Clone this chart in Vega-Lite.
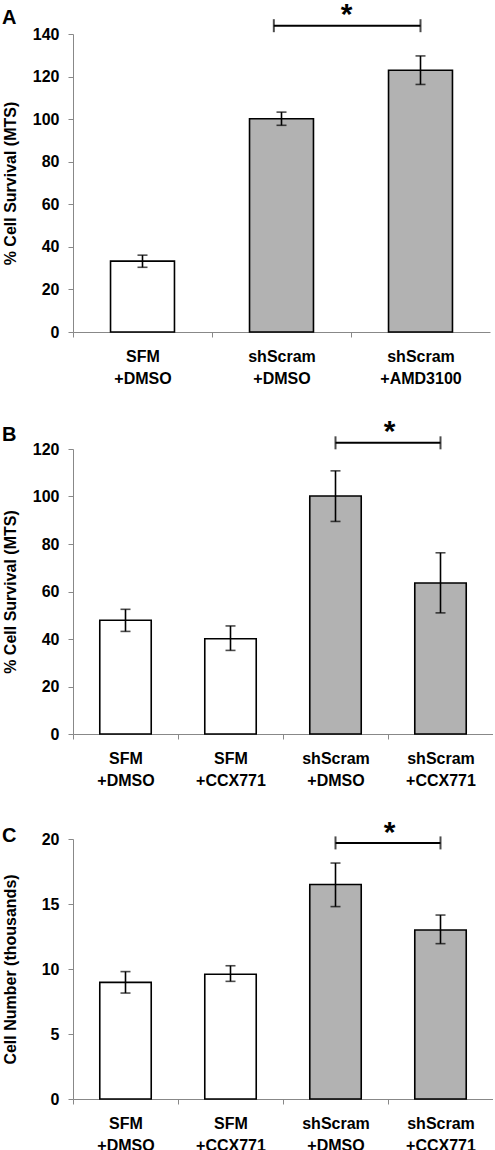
{
  "$schema": "https://vega.github.io/schema/vega-lite/v6.json",
  "padding": {"left": 1, "top": 0, "right": 0, "bottom": 0},
  "config": {
    "view": {"stroke": null},
    "font": "Liberation Sans",
    "axis": {"labelFont": "Liberation Sans", "labelFontWeight": "bold", "labelFontSize": 16, "labelColor": "#000", "titleFont": "Liberation Sans", "titleFontWeight": "bold", "titleFontSize": 16, "titleColor": "#000", "domainColor": "#888", "tickColor": "#888", "grid": false, "domainWidth": 1, "tickWidth": 1, "tickSize": 5},
    "title": {"fontSize": 20, "fontWeight": "bold", "anchor": "start", "frame": "bounds", "color": "#000", "font": "Liberation Sans", "dy": 32}
  },
  "datasets": {
    "a": [
      {"cond": "SFM|+DMSO", "group": "SFM", "mean": 33.3, "lo": 30.4, "hi": 36.1},
      {"cond": "shScram|+DMSO", "group": "shScram", "mean": 100.2, "lo": 97.1, "hi": 103.3},
      {"cond": "shScram|+AMD3100", "group": "shScram", "mean": 123.0, "lo": 116.3, "hi": 129.7}
    ],
    "abr": [{"x1": "shScram|+DMSO", "x2": "shScram|+AMD3100", "y": 143.9, "star": 148.9, "label": "*"}],
    "b": [
      {"cond": "SFM|+DMSO", "group": "SFM", "mean": 47.9, "lo": 43.2, "hi": 52.5},
      {"cond": "SFM|+CCX771", "group": "SFM", "mean": 40.1, "lo": 35.2, "hi": 45.5},
      {"cond": "shScram|+DMSO", "group": "shScram", "mean": 100.2, "lo": 89.5, "hi": 110.8},
      {"cond": "shScram|+CCX771", "group": "shScram", "mean": 63.6, "lo": 51.0, "hi": 76.3}
    ],
    "bbr": [{"x1": "shScram|+DMSO", "x2": "shScram|+CCX771", "y": 122.6, "star": 127.2, "label": "*"}],
    "c": [
      {"cond": "SFM|+DMSO", "group": "SFM", "mean": 8.97, "lo": 8.15, "hi": 9.8},
      {"cond": "SFM|+CCX771", "group": "SFM", "mean": 9.6, "lo": 9.05, "hi": 10.25},
      {"cond": "shScram|+DMSO", "group": "shScram", "mean": 16.5, "lo": 14.8, "hi": 18.15},
      {"cond": "shScram|+CCX771", "group": "shScram", "mean": 13.0, "lo": 11.95, "hi": 14.15}
    ],
    "cbr": [{"x1": "shScram|+DMSO", "x2": "shScram|+CCX771", "y": 19.7, "star": 20.45, "label": "*"}]
  },
  "bounds": "flush",
  "spacing": 117,
  "vconcat": [
    {
      "width": 417,
      "height": 298,
      "title": {"text": "A"},
      "layer": [
        {
          "data": {"name": "a"},
          "mark": {"type": "bar", "stroke": "#000", "strokeWidth": 1.6},
          "encoding": {
            "x": {"field": "cond", "type": "nominal", "title": null, "scale": {"domain": ["SFM|+DMSO", "shScram|+DMSO", "shScram|+AMD3100"], "paddingInner": 0.54, "paddingOuter": 0.27},
              "axis": {"labelAngle": 0, "labelExpr": "split(datum.label, '|')", "tickOffset": -69.5, "labelOffset": 69.5, "labelPadding": 11, "labelLineHeight": 22}},
            "y": {"field": "mean", "type": "quantitative", "title": "% Cell Survival (MTS)", "scale": {"domain": [0, 140], "nice": false},
              "axis": {"values": [0, 20, 40, 60, 80, 100, 120, 140], "labelPadding": 9, "titleX": -55}},
            "fill": {"field": "group", "type": "nominal", "scale": {"domain": ["SFM", "shScram"], "range": ["#ffffff", "#b2b2b2"]}, "legend": null}
          }
        },
        {
          "data": {"name": "a"},
          "mark": {"type": "rule", "strokeWidth": 1.6, "color": "#000"},
          "encoding": {"x": {"field": "cond", "type": "nominal", "title": null}, "y": {"field": "lo", "type": "quantitative", "title": "% Cell Survival (MTS)"}, "y2": {"field": "hi"}}
        },
        {
          "data": {"name": "a"},
          "mark": {"type": "tick", "size": 10, "thickness": 1.6, "color": "#000"},
          "encoding": {"x": {"field": "cond", "type": "nominal", "title": null}, "y": {"field": "lo", "type": "quantitative", "title": "% Cell Survival (MTS)"}}
        },
        {
          "data": {"name": "a"},
          "mark": {"type": "tick", "size": 10, "thickness": 1.6, "color": "#000"},
          "encoding": {"x": {"field": "cond", "type": "nominal", "title": null}, "y": {"field": "hi", "type": "quantitative", "title": "% Cell Survival (MTS)"}}
        },
        {
          "data": {"name": "abr"},
          "mark": {"type": "rule", "strokeWidth": 2, "color": "#000"},
          "encoding": {"x": {"field": "x1", "type": "nominal", "bandPosition": 0.38, "title": null}, "x2": {"field": "x2", "bandPosition": 0.5}, "y": {"field": "y", "type": "quantitative", "title": "% Cell Survival (MTS)"}}
        },
        {
          "data": {"name": "abr"},
          "mark": {"type": "tick", "orient": "vertical", "size": 13, "thickness": 2, "color": "#000"},
          "encoding": {"x": {"field": "x1", "type": "nominal", "bandPosition": 0.38, "title": null}, "y": {"field": "y", "type": "quantitative", "title": "% Cell Survival (MTS)"}}
        },
        {
          "data": {"name": "abr"},
          "mark": {"type": "tick", "orient": "vertical", "size": 13, "thickness": 2, "color": "#000"},
          "encoding": {"x": {"field": "x2", "type": "nominal", "title": null}, "y": {"field": "y", "type": "quantitative", "title": "% Cell Survival (MTS)"}}
        },
        {
          "data": {"name": "abr"},
          "mark": {"type": "text", "fontSize": 30, "fontWeight": "bold", "baseline": "middle", "color": "#000"},
          "encoding": {"x": {"field": "x1", "type": "nominal", "bandPosition": 1.517, "title": null}, "y": {"field": "star", "type": "quantitative", "title": "% Cell Survival (MTS)"}, "text": {"field": "label"}}
        }
      ]
    },
    {
      "bounds": "flush",
      "spacing": 105,
      "vconcat": [
        {
          "width": 420,
          "height": 285,
          "title": {"text": "B"},
          "layer": [
            {
              "data": {"name": "b"},
              "mark": {"type": "bar", "stroke": "#000", "strokeWidth": 1.6},
              "encoding": {
                "x": {"field": "cond", "type": "nominal", "title": null, "scale": {"domain": ["SFM|+DMSO", "SFM|+CCX771", "shScram|+DMSO", "shScram|+CCX771"], "paddingInner": 0.51, "paddingOuter": 0.255},
                  "axis": {"labelAngle": 0, "labelExpr": "split(datum.label, '|')", "tickOffset": -52.5, "labelOffset": 52.5, "labelPadding": 11, "labelLineHeight": 22}},
                "y": {"field": "mean", "type": "quantitative", "title": "% Cell Survival (MTS)", "scale": {"domain": [0, 120], "nice": false},
                  "axis": {"values": [0, 20, 40, 60, 80, 100, 120], "labelPadding": 9, "titleX": -55}},
                "fill": {"field": "group", "type": "nominal", "scale": {"domain": ["SFM", "shScram"], "range": ["#ffffff", "#b2b2b2"]}, "legend": null}
              }
            },
            {
              "data": {"name": "b"},
              "mark": {"type": "rule", "strokeWidth": 1.6, "color": "#000"},
              "encoding": {"x": {"field": "cond", "type": "nominal", "title": null}, "y": {"field": "lo", "type": "quantitative", "title": "% Cell Survival (MTS)"}, "y2": {"field": "hi"}}
            },
            {
              "data": {"name": "b"},
              "mark": {"type": "tick", "size": 10, "thickness": 1.6, "color": "#000"},
              "encoding": {"x": {"field": "cond", "type": "nominal", "title": null}, "y": {"field": "lo", "type": "quantitative", "title": "% Cell Survival (MTS)"}}
            },
            {
              "data": {"name": "b"},
              "mark": {"type": "tick", "size": 10, "thickness": 1.6, "color": "#000"},
              "encoding": {"x": {"field": "cond", "type": "nominal", "title": null}, "y": {"field": "hi", "type": "quantitative", "title": "% Cell Survival (MTS)"}}
            },
            {
              "data": {"name": "bbr"},
              "mark": {"type": "rule", "strokeWidth": 2, "color": "#000"},
              "encoding": {"x": {"field": "x1", "type": "nominal", "title": null}, "x2": {"field": "x2"}, "y": {"field": "y", "type": "quantitative", "title": "% Cell Survival (MTS)"}}
            },
            {
              "data": {"name": "bbr"},
              "mark": {"type": "tick", "orient": "vertical", "size": 13, "thickness": 2, "color": "#000"},
              "encoding": {"x": {"field": "x1", "type": "nominal", "title": null}, "y": {"field": "y", "type": "quantitative", "title": "% Cell Survival (MTS)"}}
            },
            {
              "data": {"name": "bbr"},
              "mark": {"type": "tick", "orient": "vertical", "size": 13, "thickness": 2, "color": "#000"},
              "encoding": {"x": {"field": "x2", "type": "nominal", "title": null}, "y": {"field": "y", "type": "quantitative", "title": "% Cell Survival (MTS)"}}
            },
            {
              "data": {"name": "bbr"},
              "mark": {"type": "text", "fontSize": 30, "fontWeight": "bold", "baseline": "middle", "color": "#000"},
              "encoding": {"x": {"field": "x1", "type": "nominal", "bandPosition": 1.55, "title": null}, "y": {"field": "star", "type": "quantitative", "title": "% Cell Survival (MTS)"}, "text": {"field": "label"}}
            }
          ]
        },
        {
          "width": 420,
          "height": 260,
          "title": {"text": "C"},
          "layer": [
            {
              "data": {"name": "c"},
              "mark": {"type": "bar", "stroke": "#000", "strokeWidth": 1.6},
              "encoding": {
                "x": {"field": "cond", "type": "nominal", "title": null, "scale": {"domain": ["SFM|+DMSO", "SFM|+CCX771", "shScram|+DMSO", "shScram|+CCX771"], "paddingInner": 0.51, "paddingOuter": 0.255},
                  "axis": {"labelAngle": 0, "labelExpr": "split(datum.label, '|')", "tickOffset": -52.5, "labelOffset": 52.5, "labelPadding": 11, "labelLineHeight": 22}},
                "y": {"field": "mean", "type": "quantitative", "title": "Cell Number (thousands)", "scale": {"domain": [0, 20], "nice": false},
                  "axis": {"values": [0, 5, 10, 15, 20], "labelPadding": 9, "titleX": -55}},
                "fill": {"field": "group", "type": "nominal", "scale": {"domain": ["SFM", "shScram"], "range": ["#ffffff", "#b2b2b2"]}, "legend": null}
              }
            },
            {
              "data": {"name": "c"},
              "mark": {"type": "rule", "strokeWidth": 1.6, "color": "#000"},
              "encoding": {"x": {"field": "cond", "type": "nominal", "title": null}, "y": {"field": "lo", "type": "quantitative", "title": "Cell Number (thousands)"}, "y2": {"field": "hi"}}
            },
            {
              "data": {"name": "c"},
              "mark": {"type": "tick", "size": 10, "thickness": 1.6, "color": "#000"},
              "encoding": {"x": {"field": "cond", "type": "nominal", "title": null}, "y": {"field": "lo", "type": "quantitative", "title": "Cell Number (thousands)"}}
            },
            {
              "data": {"name": "c"},
              "mark": {"type": "tick", "size": 10, "thickness": 1.6, "color": "#000"},
              "encoding": {"x": {"field": "cond", "type": "nominal", "title": null}, "y": {"field": "hi", "type": "quantitative", "title": "Cell Number (thousands)"}}
            },
            {
              "data": {"name": "cbr"},
              "mark": {"type": "rule", "strokeWidth": 2, "color": "#000"},
              "encoding": {"x": {"field": "x1", "type": "nominal", "title": null}, "x2": {"field": "x2"}, "y": {"field": "y", "type": "quantitative", "title": "Cell Number (thousands)"}}
            },
            {
              "data": {"name": "cbr"},
              "mark": {"type": "tick", "orient": "vertical", "size": 13, "thickness": 2, "color": "#000"},
              "encoding": {"x": {"field": "x1", "type": "nominal", "title": null}, "y": {"field": "y", "type": "quantitative", "title": "Cell Number (thousands)"}}
            },
            {
              "data": {"name": "cbr"},
              "mark": {"type": "tick", "orient": "vertical", "size": 13, "thickness": 2, "color": "#000"},
              "encoding": {"x": {"field": "x2", "type": "nominal", "title": null}, "y": {"field": "y", "type": "quantitative", "title": "Cell Number (thousands)"}}
            },
            {
              "data": {"name": "cbr"},
              "mark": {"type": "text", "fontSize": 30, "fontWeight": "bold", "baseline": "middle", "color": "#000"},
              "encoding": {"x": {"field": "x1", "type": "nominal", "bandPosition": 1.55, "title": null}, "y": {"field": "star", "type": "quantitative", "title": "Cell Number (thousands)"}, "text": {"field": "label"}}
            }
          ]
        }
      ]
    }
  ]
}
